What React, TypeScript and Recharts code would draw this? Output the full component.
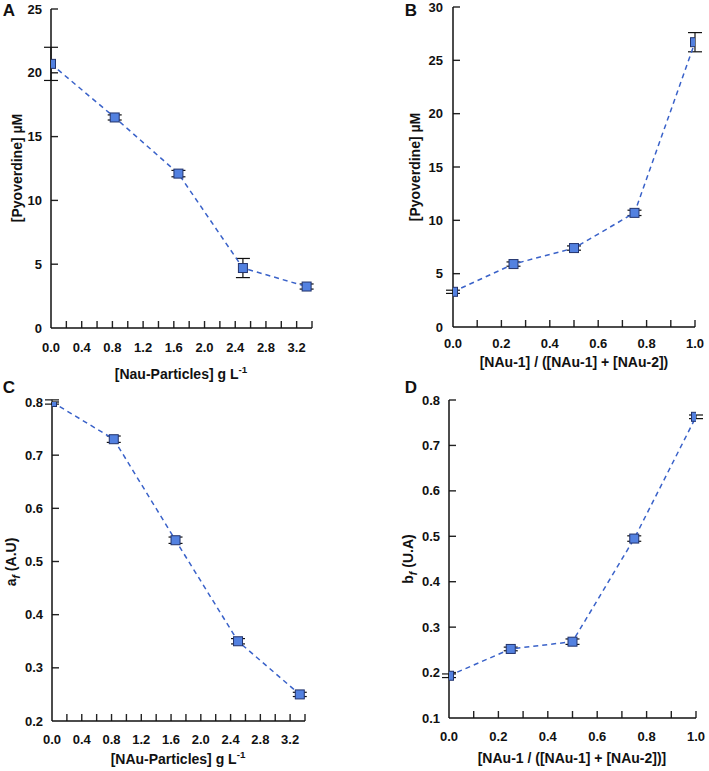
import React from 'react';
import { LineChart, Line, XAxis, YAxis, ErrorBar, ReferenceLine } from 'recharts';

// panel A: pyoverdine vs particle concentration
const concA = [0, 0.83, 1.66, 2.5, 3.33];
const pyoA = [20.7, 16.5, 12.1, 4.7, 3.25];
const errA = [1.3, 0.2, 0.25, 0.75, 0.2];

// panel B: pyoverdine vs NAu-1 fraction
const fracB = [0, 0.25, 0.5, 0.75, 1.0];
const pyoB = [3.3, 5.9, 7.4, 10.7, 26.7];
const errB = [0.15, 0.2, 0.2, 0.25, 0.9];

// panel C: a_f vs particle concentration
const concC = [0, 0.83, 1.66, 2.5, 3.33];
const afC = [0.8, 0.73, 0.54, 0.35, 0.25];
const errC = [0.004, 0.006, 0.006, 0.005, 0.004];

// panel D: b_f vs NAu-1 fraction
const fracD = [0, 0.25, 0.5, 0.75, 1.0];
const bfD = [0.193, 0.252, 0.268, 0.495, 0.763];
const errD = [0.004, 0.004, 0.006, 0.006, 0.004];

const concTicks = [0, 0.2, 0.4, 0.6, 0.8, 1.0, 1.2, 1.4, 1.6, 1.8, 2.0, 2.2, 2.4, 2.6, 2.8, 3.0, 3.2, 3.4];
const fracTicks = [0, 0.1, 0.2, 0.3, 0.4, 0.5, 0.6, 0.7, 0.8, 0.9, 1.0];
const pyoTicksA = [0, 5, 10, 15, 20, 25];
const pyoTicksB = [0, 5, 10, 15, 20, 25, 30];
const afTicks = [0.2, 0.3, 0.4, 0.5, 0.6, 0.7, 0.8];
const bfTicks = [0.1, 0.2, 0.3, 0.4, 0.5, 0.6, 0.7, 0.8];

const rows = (xs: number[], ys: number[], es: number[]) =>
  xs.map((x, i) => ({ x, y: ys[i], err: es[i] }));

const FONT = '"Liberation Sans", Arial, sans-serif';
const LINE = '#3a62c9';
const TICK_PX = 7;
const X_AXIS_H = 30;

const SquareDot = (props: any) => {
  const { cx, cy, index } = props;
  if (cx == null || cy == null) return null;
  return (
    <rect key={`d${index}`} x={cx - 4.5} y={cy - 4.5} width={9} height={9}
      fill="#5381e0" stroke="#22336c" strokeWidth={1} />
  );
};

const XTick = (props: any) => {
  const { x, y, payload, step } = props;
  const v = Number(payload.value);
  const k = v / step;
  const label = Math.abs(k - Math.round(k)) < 0.01 ? v.toFixed(1) : '';
  return (
    <text x={x} y={y} dy="0.71em" textAnchor="middle" fill="#111"
      fontSize={13} fontWeight={700} fontFamily={FONT}>{label}</text>
  );
};

const YTick = (props: any) => {
  const { x, y, payload, dec } = props;
  const v = Number(payload.value);
  return (
    <text x={x} y={y} dy="0.355em" textAnchor="end" fill="#111"
      fontSize={13} fontWeight={700} fontFamily={FONT}>{dec ? v.toFixed(1) : String(v)}</text>
  );
};

interface PanelProps {
  left: number;
  top: number;
  width: number;
  height: number;
  margin: { top: number; right: number; bottom: number; left: number };
  yWidth: number;
  data: { x: number; y: number; err: number }[];
  xDomain: [number, number];
  xTicks: number[];
  labelStep: number;
  yDomain: [number, number];
  yTicks: number[];
  dec: boolean;
  xGap: number;
  yGap: number;
}

const Panel: React.FC<PanelProps> = (p) => {
  // inward tick marks, drawn as short segments in data space
  const plotW = p.width - p.margin.left - p.margin.right - p.yWidth;
  const plotH = p.height - p.margin.top - p.margin.bottom - X_AXIS_H;
  const dy = (p.yDomain[1] - p.yDomain[0]) * TICK_PX / plotH;
  const dx = (p.xDomain[1] - p.xDomain[0]) * TICK_PX / plotW;
  return (
    <div style={{ position: 'absolute', left: p.left, top: p.top }}>
      <LineChart width={p.width} height={p.height} data={p.data} margin={p.margin}>
        <XAxis dataKey="x" type="number" domain={p.xDomain} ticks={p.xTicks}
          interval={0} height={X_AXIS_H} allowDataOverflow
          axisLine={{ stroke: '#111', strokeWidth: 1.5 }}
          tickLine={false} tickSize={0} tickMargin={p.xGap}
          tick={(tp: any) => <XTick {...tp} step={p.labelStep} />} />
        <YAxis type="number" domain={p.yDomain} ticks={p.yTicks} interval={0}
          width={p.yWidth} allowDataOverflow
          axisLine={{ stroke: '#111', strokeWidth: 1.5 }}
          tickLine={false} tickSize={0} tickMargin={p.yGap}
          tick={(tp: any) => <YTick {...tp} dec={p.dec} />} />
        {p.xTicks.filter((t) => t > p.xDomain[0]).map((t) => (
          <ReferenceLine key={`xt${t}`} ifOverflow="visible" stroke="#222" strokeWidth={1.4}
            segment={[{ x: t, y: p.yDomain[0] }, { x: t, y: p.yDomain[0] + dy }]} />
        ))}
        {p.yTicks.filter((t) => t > p.yDomain[0]).map((t) => (
          <ReferenceLine key={`yt${t}`} ifOverflow="visible" stroke="#222" strokeWidth={1.4}
            segment={[{ x: p.xDomain[0], y: t }, { x: p.xDomain[0] + dx, y: t }]} />
        ))}
        <Line dataKey="y" type="linear" stroke={LINE} strokeWidth={1.5}
          strokeDasharray="5 4" dot={SquareDot} activeDot={false}
          isAnimationActive={false}>
          <ErrorBar dataKey="err" direction="y" width={7} stroke="#111" strokeWidth={1.2} />
        </Line>
      </LineChart>
    </div>
  );
};

const Txt: React.FC<{ x: number; y: number; rotate?: boolean; size?: number; children: React.ReactNode }> =
  ({ x, y, rotate, size = 14, children }) => (
    <div style={{
      position: 'absolute', left: x, top: y, whiteSpace: 'nowrap',
      transform: `translate(-50%, -50%)${rotate ? ' rotate(-90deg)' : ''}`,
      fontSize: size, fontWeight: 700, fontFamily: FONT, color: '#111', lineHeight: 1,
    }}>{children}</div>
  );

const sup = { fontSize: '0.7em', verticalAlign: 'super' as const };
const sub = { fontSize: '0.75em', fontStyle: 'italic' as const, verticalAlign: 'sub' as const };

export default function App() {
  return (
    <div style={{ position: 'absolute', left: 0, top: 0, width: 709, height: 771, background: '#fff' }}>
      <Panel left={0} top={0} width={360} height={358}
        margin={{ top: 9, right: 48, bottom: 0, left: 0 }} yWidth={51}
        data={rows(concA, pyoA, errA)} xDomain={[0, 3.4]} xTicks={concTicks} labelStep={0.4}
        yDomain={[0, 25]} yTicks={pyoTicksA} dec={false} xGap={15} yGap={9} />
      <Panel left={360} top={0} width={349} height={357}
        margin={{ top: 7, right: 14, bottom: 0, left: 0 }} yWidth={93}
        data={rows(fracB, pyoB, errB)} xDomain={[0, 1]} xTicks={fracTicks} labelStep={0.2}
        yDomain={[0, 30]} yTicks={pyoTicksB} dec={false} xGap={12} yGap={10} />
      <Panel left={0} top={380} width={360} height={371}
        margin={{ top: 22, right: 55, bottom: 0, left: 0 }} yWidth={52}
        data={rows(concC, afC, errC)} xDomain={[0, 3.4]} xTicks={concTicks} labelStep={0.4}
        yDomain={[0.2, 0.8]} yTicks={afTicks} dec={true} xGap={13.5} yGap={9} />
      <Panel left={360} top={380} width={349} height={368}
        margin={{ top: 20, right: 13, bottom: 0, left: 0 }} yWidth={89}
        data={rows(fracD, bfD, errD)} xDomain={[0, 1]} xTicks={fracTicks} labelStep={0.2}
        yDomain={[0.1, 0.8]} yTicks={bfTicks} dec={true} xGap={14} yGap={9} />

      <Txt x={9} y={10} size={17}>A</Txt>
      <Txt x={411} y={10} size={17}>B</Txt>
      <Txt x={9} y={387} size={17}>C</Txt>
      <Txt x={411} y={387} size={17}>D</Txt>

      <Txt x={17} y={168} rotate>[Pyoverdine] µM</Txt>
      <Txt x={181} y={373}>[Nau-Particles] g L<span style={sup}>-1</span></Txt>

      <Txt x={415} y={167} rotate>[Pyoverdine] µM</Txt>
      <Txt x={574} y={362}>[NAu-1] / ([NAu-1] + [NAu-2])</Txt>

      <Txt x={13} y={562} rotate>a<span style={sub}>f</span> (A.U)</Txt>
      <Txt x={178} y={758}>[NAu-Particles] g L<span style={sup}>-1</span></Txt>

      <Txt x={410} y={559} rotate>b<span style={sub}>f</span> (U.A)</Txt>
      <Txt x={572} y={758}>[NAu-1 / ([NAu-1] + [NAu-2])]</Txt>
    </div>
  );
}
